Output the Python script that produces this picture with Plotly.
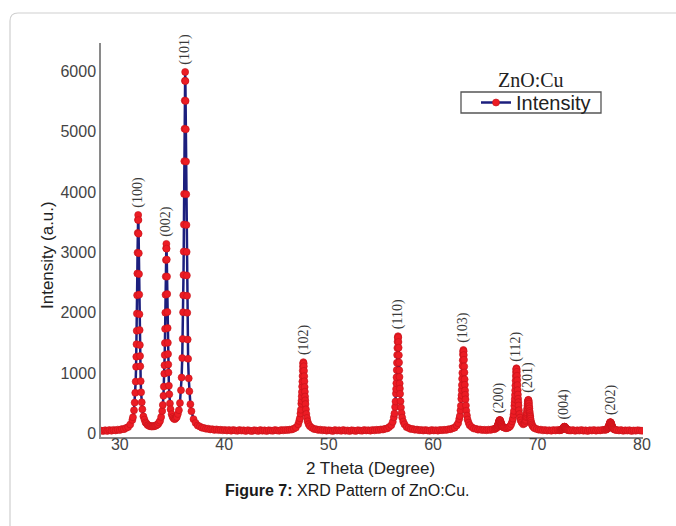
import plotly.graph_objects as go

# ---------------------------------------------------------------------------
# XRD scan of Cu-doped ZnO
# ---------------------------------------------------------------------------

# Reflections: Miller indices and 2-theta centres (degrees)
peak_labels = ["(100)", "(002)", "(101)", "(102)", "(110)", "(103)",
               "(200)", "(112)", "(201)", "(004)", "(202)"]
peak_2theta = [31.76, 34.46, 36.26, 47.58, 56.64, 62.90,
               66.38, 67.98, 69.12, 72.58, 76.98]

# Fine sampling offsets (degrees from each reflection centre)
core_offsets = [-0.5, -0.4, -0.34, -0.28, -0.24, -0.2, -0.18, -0.16, -0.14, -0.12,
                -0.1, -0.08, -0.06, -0.04, -0.02, 0.0, 0.02, 0.04, 0.06, 0.08,
                0.1, 0.12, 0.14, 0.16, 0.18, 0.2, 0.24, 0.28, 0.34, 0.4, 0.5]

# Counts across each reflection (same order as core_offsets)
core_100 = [268, 382, 510, 672, 858, 1104, 1270, 1478, 1700, 1985, 2290, 2650, 2995, 3322, 3540,
            3620, 3535, 3310, 2985, 2640, 2300, 1975, 1712, 1465, 1282, 1112, 866, 680, 515, 398, 282]
core_002 = [272, 371, 471, 622, 775, 990, 1130, 1299, 1497, 1733, 2001, 2298, 2600, 2874, 3068,
            3140, 3062, 2880, 2598, 2310, 2012, 1745, 1502, 1315, 1140, 1008, 790, 648, 496, 400, 318]
core_101 = [504, 715, 926, 1248, 1566, 2007, 2289, 2626, 3014, 3462, 3969, 4512, 5048, 5517, 5844,
            5990, 5840, 5510, 5040, 4505, 3962, 3455, 3008, 2618, 2282, 1998, 1556, 1236, 912, 698, 484]
core_102 = [150, 206, 250, 330, 392, 492, 542, 615, 686, 775, 858, 950, 1040, 1108, 1160,
            1180, 1158, 1112, 1036, 948, 862, 768, 690, 610, 548, 486, 398, 322, 255, 200, 152]
core_110 = [192, 268, 330, 438, 528, 660, 735, 832, 930, 1050, 1170, 1300, 1415, 1520, 1585,
            1610, 1590, 1515, 1420, 1296, 1175, 1046, 936, 828, 742, 655, 532, 430, 335, 262, 196]
core_103 = [170, 238, 288, 380, 456, 572, 634, 718, 800, 905, 1002, 1118, 1212, 1306, 1355,
            1382, 1362, 1298, 1220, 1110, 1010, 896, 806, 712, 640, 565, 462, 374, 295, 230, 178]
core_200 = [70, 84, 86, 99, 104, 123, 128, 143, 147, 165, 172, 191, 198, 214, 216,
            222, 219, 215, 201, 195, 178, 172, 157, 152, 137, 134, 118, 114, 101, 100, 92]
core_112 = [152, 200, 245, 310, 372, 456, 510, 568, 636, 712, 792, 874, 952, 1016, 1062,
            1080, 1064, 1020, 956, 880, 800, 716, 644, 574, 518, 462, 384, 320, 262, 216, 182]
core_201 = [150, 162, 170, 204, 224, 268, 286, 320, 345, 388, 418, 462, 494, 530, 546,
            556, 548, 522, 494, 450, 414, 370, 338, 300, 276, 246, 210, 176, 148, 122, 102]
core_004 = [50, 56, 55, 62, 64, 72, 72, 80, 80, 88, 90, 98, 100, 108, 108,
            112, 110, 104, 104, 96, 94, 86, 84, 76, 76, 68, 66, 58, 60, 52, 50]
core_202 = [60, 62, 72, 78, 90, 98, 108, 114, 126, 134, 148, 156, 170, 176, 184,
            186, 182, 178, 166, 158, 145, 136, 122, 116, 106, 100, 86, 80, 70, 64, 58]

# Background / tail counts between reflections (regular steps)
bg_a = [46, 38, 52, 41, 55, 44, 58, 49, 62, 55, 72, 70, 90, 104, 148, 222]          # 28.2 step 0.2
bg_b = [228, 182, 165, 138, 134, 120, 122, 112, 121, 116, 126, 128, 144, 152, 182, 210]  # 32.36 step 0.1
bg_c = [270, 246, 236, 252, 270, 322, 385]                                           # 35.06 step 0.1
bg_d = [368, 236, 172, 130, 116, 94, 90, 76, 78, 66, 70, 58, 66, 54, 60, 50, 58, 47, 55, 44,
        56, 48, 42, 55, 46, 51, 40, 53, 45, 38, 52, 47, 41, 54, 44, 50, 39, 52, 46, 43,
        55, 48, 44, 56, 50, 58, 55, 62, 64, 78, 96]                                  # 36.86 step 0.2
bg_e = [120, 92, 72, 70, 58, 62, 50, 56, 45, 52, 47, 40, 54, 46, 51, 42, 55, 44, 49, 38,
        52, 46, 41, 53, 47, 44, 55, 48, 52, 45, 57, 50, 60, 55, 66, 64, 76, 82, 105, 136]  # 48.2 step 0.2
bg_f = [150, 104, 90, 72, 74, 60, 64, 52, 58, 47, 55, 49, 43, 56, 48, 53, 45, 58, 52, 60,
        57, 68, 70, 84, 95, 132]                                                     # 57.26 step 0.2
bg_g = [136, 104, 80, 76, 62, 66, 54, 60, 52, 62, 58, 70]                             # 63.5 step 0.2
bg_h = [84, 88, 95, 104, 120]                                                        # 66.98 step 0.1
bg_i = [84, 72, 60, 62, 50, 56, 46, 53, 44, 55, 48, 58]                               # 69.72 step 0.2
bg_j = [48, 54, 42, 51, 46, 56, 44, 50, 40, 53, 47, 55, 45, 52, 49, 58, 60]           # 73.2 step 0.2
bg_k = [56, 48, 55, 42, 50, 46, 53, 40, 49, 45, 52, 47, 44]                           # 77.6 step 0.2

x_ticks = [30, 40, 50, 60, 70, 80]
y_ticks = [0, 1000, 2000, 3000, 4000, 5000, 6000]


def scan_segment(start, step, counts):
    return [round(start + k * step, 3) for k in range(len(counts))], list(counts)


def peak_segment(i, counts):
    assert len(counts) == len(core_offsets), peak_labels[i]
    return [round(peak_2theta[i] + o, 3) for o in core_offsets], list(counts)


peak_cores = [core_100, core_002, core_101, core_102, core_110, core_103,
              core_200, core_112, core_201, core_004, core_202]

parts = [
    scan_segment(28.2, 0.2, bg_a),
    peak_segment(0, core_100),
    scan_segment(32.36, 0.1, bg_b),
    peak_segment(1, core_002),
    scan_segment(35.06, 0.1, bg_c),
    peak_segment(2, core_101),
    scan_segment(36.86, 0.2, bg_d),
    peak_segment(3, core_102),
    scan_segment(48.2, 0.2, bg_e),
    peak_segment(4, core_110),
    scan_segment(57.26, 0.2, bg_f),
    peak_segment(5, core_103),
    scan_segment(63.5, 0.2, bg_g),
    peak_segment(6, core_200),
    scan_segment(66.98, 0.1, bg_h),
    peak_segment(7, core_112),
    peak_segment(8, core_201),
    scan_segment(69.72, 0.2, bg_i),
    peak_segment(9, core_004),
    scan_segment(73.2, 0.2, bg_j),
    peak_segment(10, core_202),
    scan_segment(77.6, 0.2, bg_k),
]

pairs = sorted((x, y) for xs, ys in parts for x, y in zip(xs, ys))
two_theta = [p[0] for p in pairs]
intensity = [p[1] for p in pairs]

# ---------------------------------------------------------------------------
W, H = 676, 526
ML, MR, MT, MB = 101, 33, 43, 89
PW, PH = W - ML - MR, H - MT - MB


def px(xp):
    return (xp - ML) / PW


def py(yp):
    return (H - MB - yp) / PH


SANS = "Arial, Liberation Sans, sans-serif"
SERIF = "Times New Roman, Liberation Serif, serif"

fig = go.Figure()
fig.add_trace(go.Scatter(
    x=two_theta, y=intensity, mode="lines+markers", name="Intensity",
    line=dict(color="#1c1f7e", width=2.5),
    marker=dict(color="#ec1c24", size=7, symbol="circle",
                line=dict(color="#c4121a", width=0.6)),
))

annotations = []
for lbl, xc, core in zip(peak_labels, peak_2theta, peak_cores):
    annotations.append(dict(
        x=xc, y=max(core), xref="x", yref="y", text=lbl, textangle=-90,
        showarrow=False, xanchor="center", yanchor="bottom", yshift=5,
        font=dict(family=SERIF, size=14, color="#3a3a3a"),
    ))

annotations += [
    dict(x=px(47), y=py(255), xref="paper", yref="paper", text="Intensity (a.u.)",
         textangle=-90, showarrow=False, xanchor="center", yanchor="middle",
         font=dict(family=SANS, size=17, color="#222222")),
    dict(x=px(370), y=py(468), xref="paper", yref="paper", text="2 Theta (Degree)",
         showarrow=False, xanchor="center", yanchor="middle",
         font=dict(family=SANS, size=17, color="#222222")),
    dict(x=px(347), y=py(490), xref="paper", yref="paper",
         text="<b>Figure 7:</b> XRD Pattern of ZnO:Cu.",
         showarrow=False, xanchor="center", yanchor="middle",
         font=dict(family=SANS, size=16, color="#1a1a1a")),
    dict(x=px(531), y=py(80), xref="paper", yref="paper", text="ZnO:Cu",
         showarrow=False, xanchor="center", yanchor="middle",
         font=dict(family=SERIF, size=20, color="#222222")),
]

# page frame with a rounded top-left corner
fx0, fy0, r = 10, 13, 8
frame_path = (f"M {px(fx0)},{py(H + 20)} L {px(fx0)},{py(fy0 + r)} "
              f"Q {px(fx0)},{py(fy0)} {px(fx0 + r)},{py(fy0)} L {px(W + 20)},{py(fy0)}")

shapes = [
    dict(type="path", xref="paper", yref="paper", path=frame_path,
         line=dict(color="#cfcfcf", width=1.2), layer="below"),
    dict(type="rect", xref="paper", yref="paper",
         x0=px(461), x1=px(601), y0=py(113), y1=py(92),
         line=dict(color="#555555", width=1.3)),
]

fig.update_layout(
    width=W, height=H,
    margin=dict(l=ML, r=MR, t=MT, b=MB, pad=0),
    paper_bgcolor="white", plot_bgcolor="white",
    showlegend=True,
    legend=dict(x=px(476), y=py(102.5), xanchor="left", yanchor="middle",
                bgcolor="rgba(0,0,0,0)", borderwidth=0,
                font=dict(family=SANS, size=20, color="#222222")),
    annotations=annotations,
    shapes=shapes,
    xaxis=dict(range=[28.2, 80.1], tickvals=x_ticks, showgrid=False, zeroline=False,
               showline=True, linecolor="#8a8a8a", linewidth=1.5, ticks="",
               ticklabelstandoff=-8,
               tickfont=dict(family=SANS, size=16, color="#444444")),
    yaxis=dict(range=[-60, 6470], tickvals=y_ticks, showgrid=False, zeroline=False,
               showline=True, linecolor="#8a8a8a", linewidth=1.5, ticks="",
               tickfont=dict(family=SANS, size=16, color="#444444")),
)

fig.write_html("out.html")
